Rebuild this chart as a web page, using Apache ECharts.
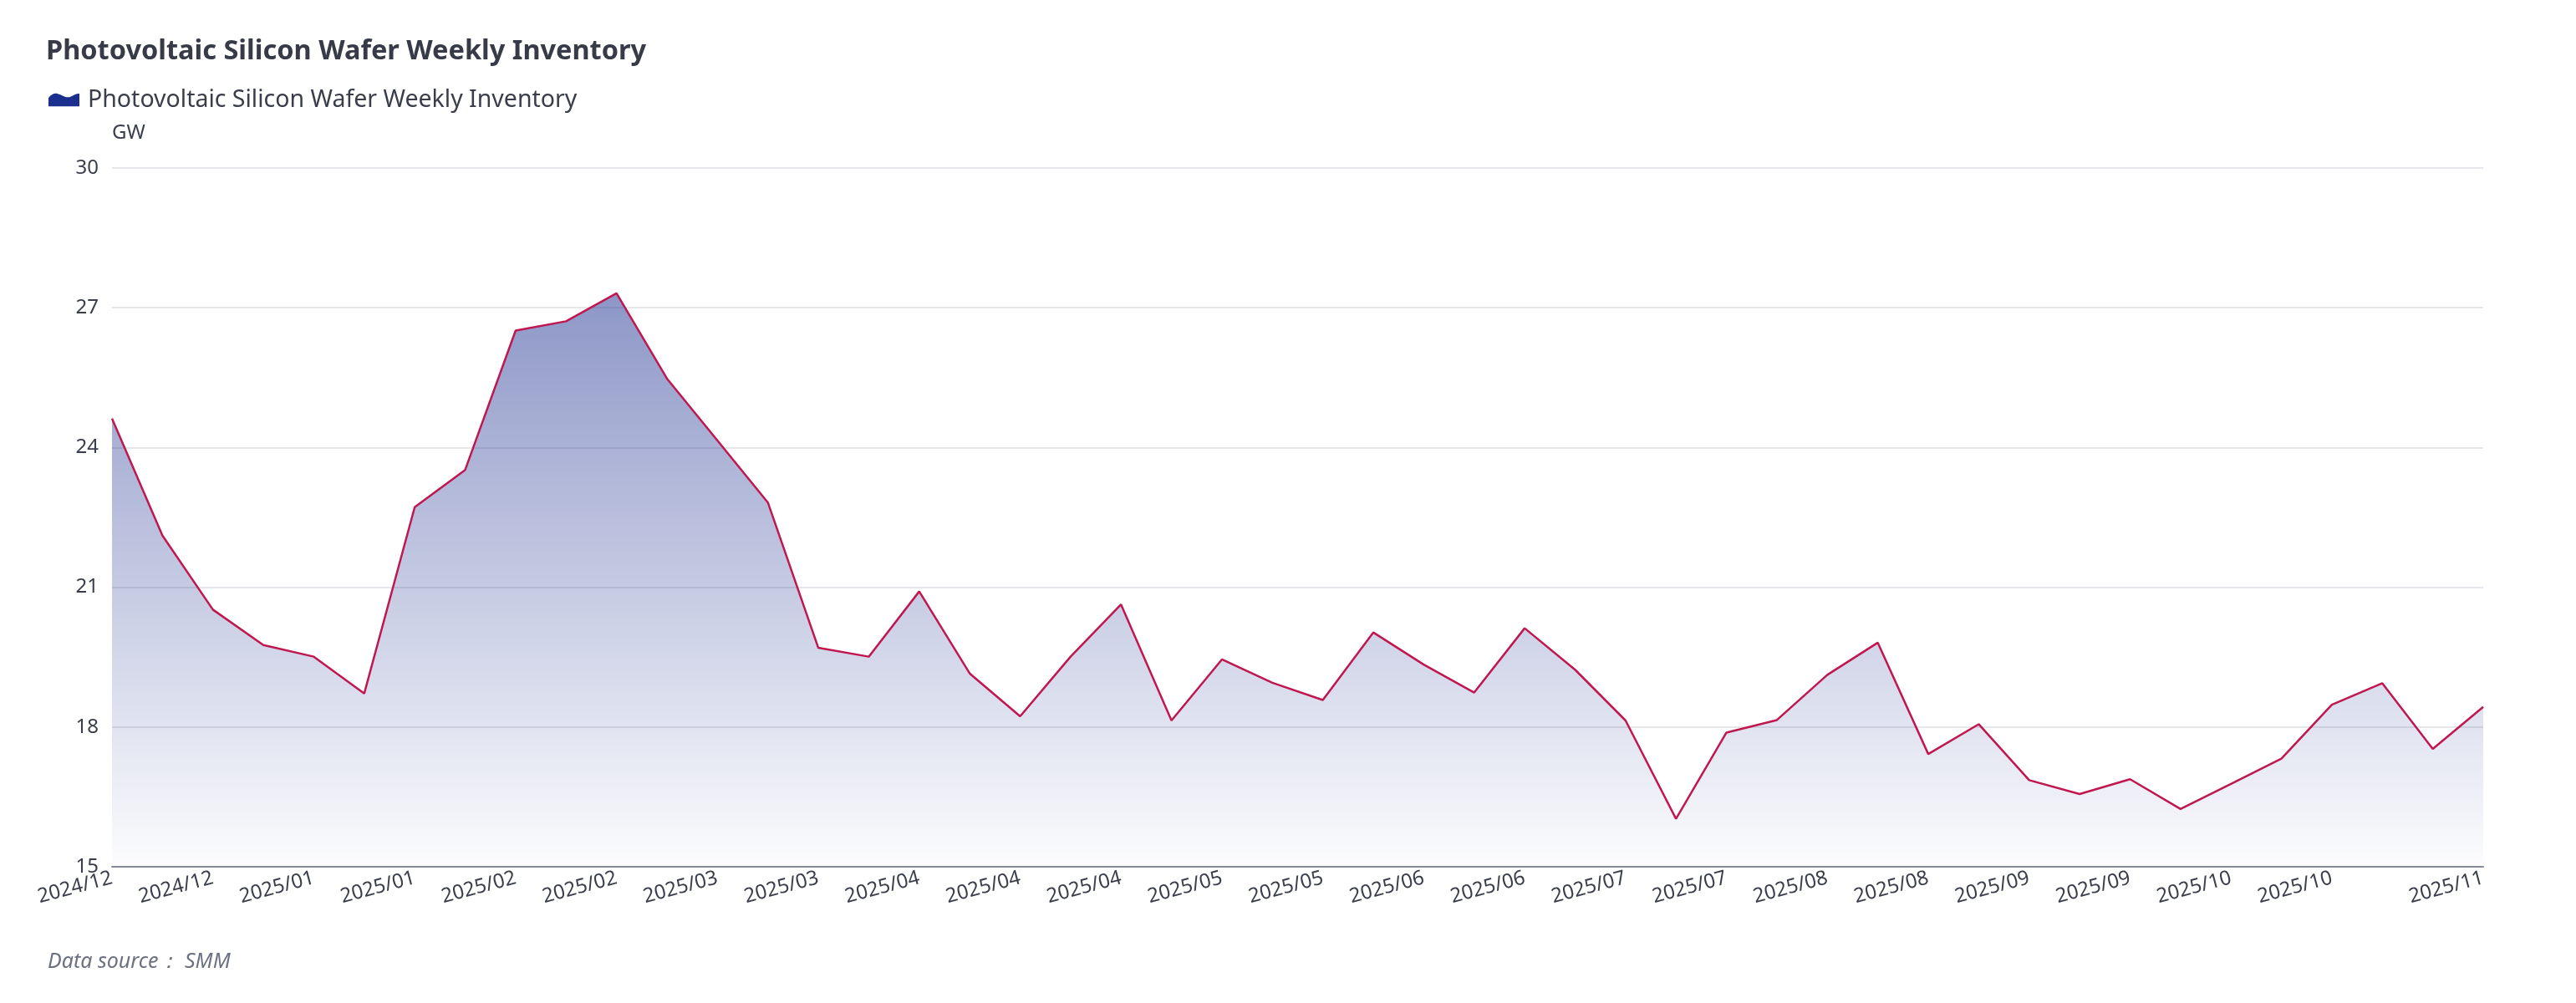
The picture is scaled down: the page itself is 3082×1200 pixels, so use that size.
<!DOCTYPE html>
<html>
<head>
<meta charset="utf-8">
<script src="https://cdn.jsdelivr.net/npm/echarts@6/dist/echarts.min.js"></script>
<style>
html,body{margin:0;padding:0;background:#fff;}
#chart{width:3082px;height:1200px;}
</style>
</head>
<body>
<div id="chart"></div>
<script>
var titleText = 'Photovoltaic Silicon Wafer Weekly Inventory';
var seriesName = 'Photovoltaic Silicon Wafer Weekly Inventory';
var unitName = 'GW';
var sourceText = 'Data source\uFF1A SMM';

var categories = [
  '2024/12','2024/12','2024/12','2024/12','2025/01','2025/01','2025/01','2025/01',
  '2025/02','2025/02','2025/02','2025/02','2025/03','2025/03','2025/03','2025/03',
  '2025/04','2025/04','2025/04','2025/04','2025/04','2025/05','2025/05','2025/05',
  '2025/05','2025/06','2025/06','2025/06','2025/06','2025/07','2025/07','2025/07',
  '2025/07','2025/08','2025/08','2025/08','2025/08','2025/09','2025/09','2025/09',
  '2025/09','2025/10','2025/10','2025/10','2025/10','2025/10','2025/10','2025/11'
];

var inventory = [
  24.62, 22.11, 20.52, 19.76, 19.51, 18.72, 22.72, 23.52,
  26.51, 26.71, 27.31, 25.48, 24.15, 22.82, 19.70, 19.51,
  20.91, 19.15, 18.23, 19.51, 20.63, 18.14, 19.45, 18.95,
  18.58, 20.03, 19.34, 18.74, 20.12, 19.23, 18.14, 16.03,
  17.88, 18.15, 19.12, 19.81, 17.42, 18.06, 16.86, 16.56,
  16.88, 16.24, 16.78, 17.32, 18.48, 18.94, 17.53, 18.43
];

var yMin = 15, yMax = 30, yStep = 3;

var FONT = '"Noto Sans", sans-serif';
var chart = echarts.init(document.getElementById('chart'), null, {renderer: 'canvas'});
var lastIdx = categories.length - 1;

chart.setOption({
  backgroundColor: '#ffffff',
  animation: false,
  title: [{
    text: titleText,
    left: 50,
    top: 40,
    textStyle: {fontFamily: FONT, fontSize: 32.5, fontWeight: 'bold', color: '#363b47'}
  }, {
    text: sourceText,
    left: 52,
    top: 1133,
    textStyle: {fontFamily: FONT, fontSize: 25, fontWeight: 'normal', fontStyle: 'italic', color: '#6b7181'}
  }],
  legend: {
    left: 53,
    top: 100,
    itemWidth: 37,
    itemHeight: 16,
    icon: 'path://M0,16 L0,6 C3,2 7,0 11,1 C16,2 20,6 25,5 C29,4 33,0 37,1 L37,16 Z',
    textStyle: {fontFamily: FONT, fontSize: 28.5, color: '#3a3e4a', padding: [0, 0, 0, 5]},
    data: [{name: seriesName, itemStyle: {color: '#1b2f8f'}}]
  },
  grid: {left: 134, right: 111, top: 201, bottom: 163, containLabel: false},
  xAxis: {
    type: 'category',
    data: categories,
    boundaryGap: false,
    axisLine: {show: true, lineStyle: {color: '#858a97', width: 2}},
    axisTick: {show: false},
    axisLabel: {
      rotate: 15,
      margin: 13,
      fontFamily: FONT,
      fontSize: 24,
      color: '#3a3e4a',
      interval: function (idx) { return (idx % 2 === 0 && idx <= 44) || idx === lastIdx; },
      hideOverlap: false
    },
    splitLine: {show: false}
  },
  yAxis: {
    type: 'value',
    min: yMin,
    max: yMax,
    interval: yStep,
    name: unitName,
    nameLocation: 'end',
    nameGap: 30,
    nameTextStyle: {fontFamily: FONT, fontSize: 24, color: '#3a3e4a', align: 'left'},
    axisLine: {show: false},
    axisTick: {show: false},
    axisLabel: {fontFamily: FONT, fontSize: 24, color: '#3a3e4a', margin: 16},
    splitLine: {show: true, lineStyle: {color: '#e6e7ea', width: 2}}
  },
  series: [{
    name: seriesName,
    type: 'line',
    data: inventory,
    showSymbol: false,
    symbol: 'none',
    itemStyle: {color: '#1b2f8f'},
    lineStyle: {color: '#c0174f', width: 2.5},
    areaStyle: {
      opacity: 1,
      color: new echarts.graphic.LinearGradient(0, 0, 0, 1, [
        {offset: 0, color: 'rgba(27,47,143,0.5)'},
        {offset: 1, color: 'rgba(27,47,143,0.01)'}
      ])
    }
  }]
});
</script>
</body>
</html>
